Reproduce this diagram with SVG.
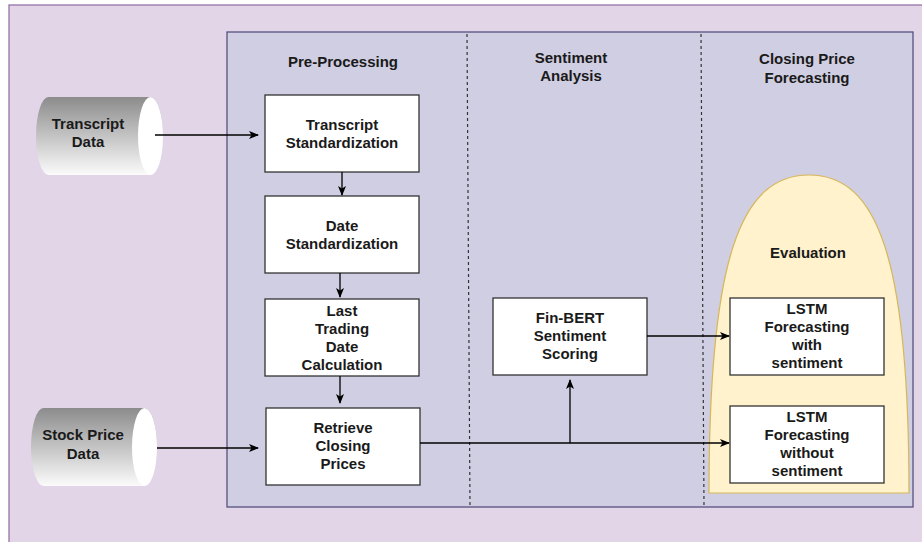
<svg xmlns="http://www.w3.org/2000/svg" width="922" height="542" viewBox="0 0 922 542">
<defs>
<linearGradient id="cyl" x1="0" y1="0" x2="0" y2="1">
<stop offset="0" stop-color="#8c8c8c"/>
<stop offset="1" stop-color="#fbfbfb"/>
</linearGradient>
<marker id="arr" viewBox="0 0 10 10" refX="9" refY="5" markerWidth="10" markerHeight="10" markerUnits="userSpaceOnUse" orient="auto">
<path d="M0,1 L10,5 L0,9 L2.5,5 Z" fill="#000"/>
</marker>
</defs>
<style>
text{font-family:"Liberation Sans",Arial,sans-serif;font-size:15px;font-weight:bold;fill:#1a1a1a;text-anchor:middle}
.box{fill:#fff;stroke:#333;stroke-width:1.3}
.conn{fill:none;stroke:#000;stroke-width:1.3;marker-end:url(#arr)}
.dash{stroke:#333;stroke-width:1.2;stroke-dasharray:3 3;fill:none}
</style>
<rect id="background" x="9" y="5" width="920" height="545" fill="#e1d5e7" stroke="#9673a6" stroke-width="1.3"/>
<rect id="pipeline" x="227" y="32" width="686" height="475" fill="#d0cee2" stroke="#56517e" stroke-width="1.3"/>
<line class="dash" x1="467" y1="34" x2="470" y2="508"/>
<line class="dash" x1="701" y1="34" x2="704" y2="508"/>
<text x="343" y="67">Pre-Processing</text>
<text x="571" y="63">Sentiment</text>
<text x="571" y="81">Analysis</text>
<text x="807" y="64">Closing Price</text>
<text x="807" y="83">Forecasting</text>

<g id="evaluation">
<path d="M709,493 C709,260 740,175 809,175 C878,175 909,260 909,493 Z" fill="#fff2cc" stroke="#d6b656" stroke-width="1.2"/>
<text x="808" y="258">Evaluation</text>
</g>

<g id="transcript-data">
<path d="M48.5,97 L150.5,97 A12.5,39 0 0 1 150.5,175 L48.5,175 A12.5,39 0 0 1 48.5,97 Z" fill="url(#cyl)"/>
<ellipse cx="150.5" cy="136" rx="12.5" ry="39" fill="#fff"/>
<text x="88" y="129">Transcript</text>
<text x="88" y="147">Data</text>
</g>
<g id="stock-price-data">
<path d="M43.5,408 L144.5,408 A12.5,39 0 0 1 144.5,486 L43.5,486 A12.5,39 0 0 1 43.5,408 Z" fill="url(#cyl)"/>
<ellipse cx="144.5" cy="447" rx="12.5" ry="39" fill="#fff"/>
<text x="83" y="440">Stock Price</text>
<text x="83" y="459">Data</text>
</g>

<g id="transcript-standardization">
<rect class="box" x="265" y="95" width="154" height="77"/>
<text x="342" y="130">Transcript</text>
<text x="342" y="148">Standardization</text>
</g>
<g id="date-standardization">
<rect class="box" x="265" y="196" width="154" height="77"/>
<text x="342" y="231">Date</text>
<text x="342" y="249">Standardization</text>
</g>
<g id="last-trading-date">
<rect class="box" x="265" y="299" width="154" height="77"/>
<text x="342" y="316">Last</text>
<text x="342" y="334">Trading</text>
<text x="342" y="352">Date</text>
<text x="342" y="370">Calculation</text>
</g>
<g id="retrieve-closing-prices">
<rect class="box" x="266" y="408" width="154" height="77"/>
<text x="343" y="433">Retrieve</text>
<text x="343" y="451">Closing</text>
<text x="343" y="469">Prices</text>
</g>
<g id="finbert">
<rect class="box" x="493" y="298" width="154" height="77"/>
<text x="570" y="323">Fin-BERT</text>
<text x="570" y="341">Sentiment</text>
<text x="570" y="359">Scoring</text>
</g>
<g id="lstm-with">
<rect class="box" x="730" y="298" width="154" height="77"/>
<text x="807" y="314">LSTM</text>
<text x="807" y="332">Forecasting</text>
<text x="807" y="350">with</text>
<text x="807" y="368">sentiment</text>
</g>
<g id="lstm-without">
<rect class="box" x="730" y="406" width="154" height="77"/>
<text x="807" y="422">LSTM</text>
<text x="807" y="440">Forecasting</text>
<text x="807" y="458">without</text>
<text x="807" y="476">sentiment</text>
</g>

<g id="connectors">
<path class="conn" d="M155,135 L258,135"/>
<path class="conn" d="M157,448 L258,448"/>
<path class="conn" d="M342,172 L342,195"/>
<path class="conn" d="M340,273 L340,297"/>
<path class="conn" d="M340,376 L340,403"/>
<path class="conn" d="M420,443 L729,443"/>
<path class="conn" d="M570,443 L570,380"/>
<path class="conn" d="M647,336 L729,336"/>
</g>
</svg>
